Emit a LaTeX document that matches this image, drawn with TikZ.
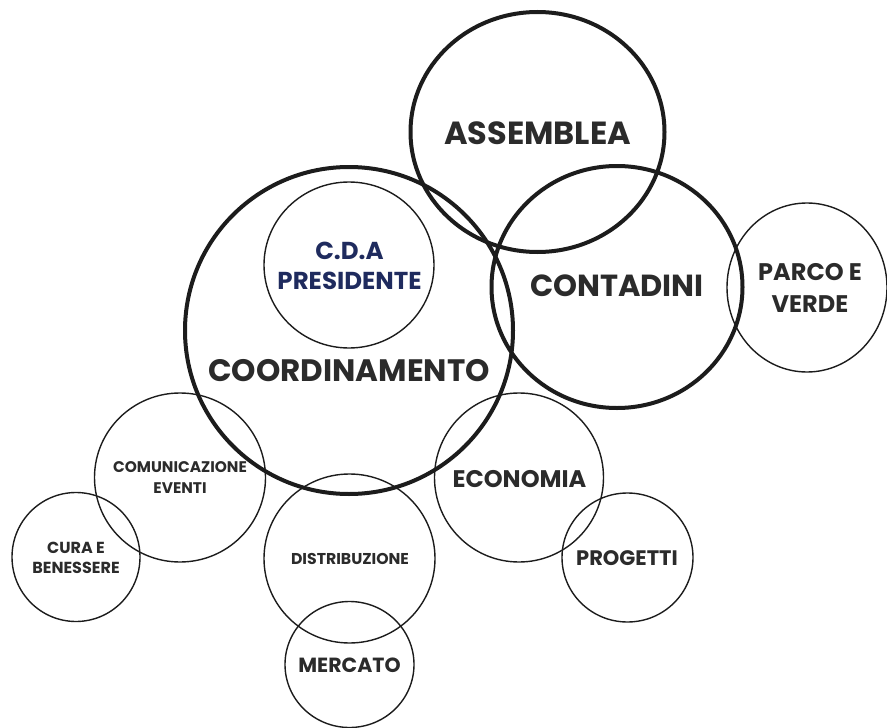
\documentclass[tikz,border=0pt]{standalone}
\usepackage{fontspec}
\setmainfont{Poppins}
\usetikzlibrary{shapes.geometric}
\definecolor{ink}{HTML}{1C1C1C}
\definecolor{txt}{HTML}{2B2B2B}
\definecolor{navy}{HTML}{1F2B5E}
\tikzset{
  bigring/.style={ellipse, draw=ink, line width=4pt, inner sep=0pt},
  smallring/.style={ellipse, draw=ink, line width=1.4pt, inner sep=0pt},
  lbl/.style={text=txt, align=center, inner sep=0pt, font=\bfseries},
}
\begin{document}
\begin{tikzpicture}[x=1pt,y=-1pt]
\useasboundingbox (0,0) rectangle (887,728);
% rings
\node[bigring, minimum width=254pt, minimum height=240pt] (assC) at (537.5,132) {};
\node[bigring, minimum width=251pt, minimum height=242pt] (conC) at (617,287) {};
\node[bigring, minimum width=328pt, minimum height=327pt] (cooC) at (349,330.5) {};
\node[smallring, minimum width=170pt, minimum height=166pt] (cdaC) at (349,265) {};
\node[smallring, minimum width=160pt, minimum height=169pt] (parC) at (807,287.5) {};
\node[smallring, minimum width=171pt, minimum height=169pt] (comC) at (180,477.5) {};
\node[smallring, minimum width=128pt, minimum height=129pt] (curC) at (76,557) {};
\node[smallring, minimum width=171pt, minimum height=169pt] (disC) at (349.5,558.5) {};
\node[smallring, minimum width=129pt, minimum height=126pt] (merC) at (349.5,664.5) {};
\node[smallring, minimum width=169pt, minimum height=169pt] (ecoC) at (519,477.5) {};
\node[smallring, minimum width=131pt, minimum height=129pt] (proC) at (627.5,557.5) {};
% labels
\node[lbl, font=\bfseries\fontsize{32}{30}\selectfont] (ass) at (537.5,133.5) {ASSEMBLEA};
\node[lbl, font=\bfseries\fontsize{30.5}{30}\selectfont] (con) at (617,286) {CONTADINI};
\node[lbl, font=\bfseries\fontsize{31}{30}\selectfont] (coo) at (349,371) {COORDINAMENTO};
\node[lbl, text=navy, font=\bfseries\fontsize{24.5}{30}\selectfont] (cda) at (349.5,265.5) {C.D.A\\PRESIDENTE};
\node[lbl, font=\bfseries\fontsize{24}{32}\selectfont] (par) at (810,287.5) {PARCO E\\VERDE};
\node[lbl, font=\bfseries\fontsize{15.4}{21}\selectfont] (com) at (180,478) {COMUNICAZIONE\\EVENTI};
\node[lbl, font=\bfseries\fontsize{16}{20}\selectfont] (cur) at (76,557.5) {CURA E\\BENESSERE};
\node[lbl, font=\bfseries\fontsize{15.7}{20}\selectfont] (dis) at (350,558.5) {DISTRIBUZIONE};
\node[lbl, font=\bfseries\fontsize{20.5}{30}\selectfont] (mer) at (349.5,665) {MERCATO};
\node[lbl, font=\bfseries\fontsize{24}{30}\selectfont] (eco) at (519.5,479) {ECONOMIA};
\node[lbl, font=\bfseries\fontsize{21}{30}\selectfont] (pro) at (627,558) {PROGETTI};
\end{tikzpicture}
\end{document}
